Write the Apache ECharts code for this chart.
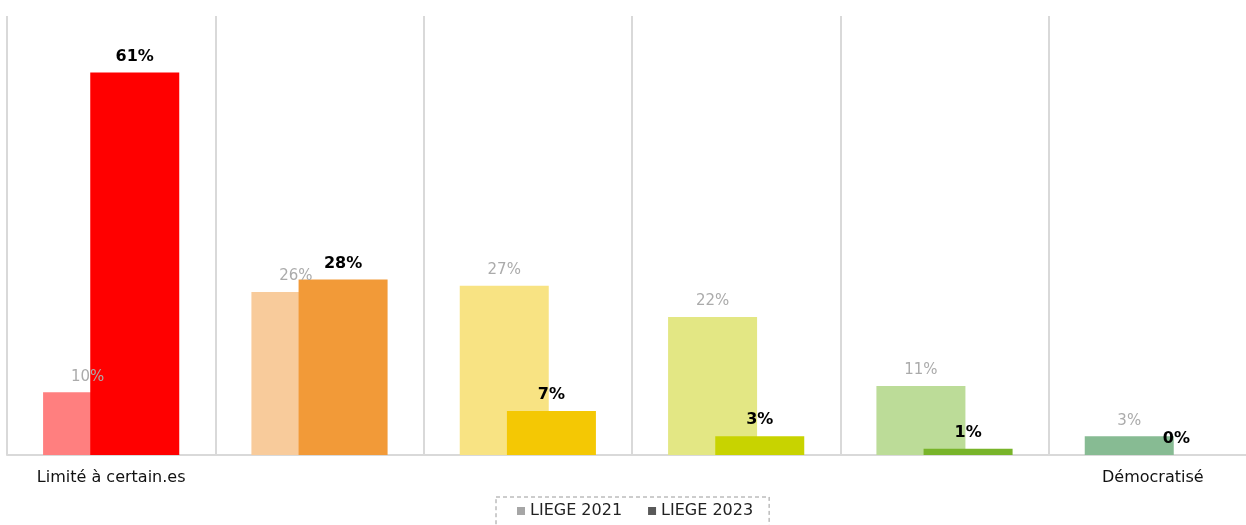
<!DOCTYPE html>
<html>
<head>
<meta charset="utf-8">
<script src="https://cdn.jsdelivr.net/npm/echarts@6/dist/echarts.min.js"></script>
<style>
  html, body { margin: 0; padding: 0; background: #ffffff; }
  #chart { width: 1246px; height: 525px; }
</style>
</head>
<body>
<div id="chart"></div>
<script>
// Categories: scale from "limited to some" to "democratised"
const categories = ['Limité à certain.es', '', '', '', '', 'Démocratisé'];
// Share of respondents (%)
const liege2021 = [10, 26, 27, 22, 11, 3];
const liege2023 = [61, 28, 7, 3, 1, 0];
const seriesNames = ['LIEGE 2021', 'LIEGE 2023'];

const lightColors = ['#FF7F7F', '#F8CB9B', '#F8E383', '#E3E784', '#BCDC98', '#87BB93'];
const darkColors = ['#FF0000', '#F29A38', '#F4C804', '#C8D300', '#78B42A', '#3F8F5A'];

const FONT = 'DejaVu Sans';

const chart = echarts.init(document.getElementById('chart'), null, { renderer: 'canvas' });

chart.setOption({
  animation: false,
  backgroundColor: '#ffffff',
  textStyle: { fontFamily: FONT },
  grid: { left: 7, top: 16, right: -11, bottom: 70, containLabel: false, outerBoundsMode: 'none' },
  legend: {
    data: [
      { name: seriesNames[0], itemStyle: { color: '#A6A6A6' } },
      { name: seriesNames[1], itemStyle: { color: '#595959' } }
    ],
    left: 496,
    top: 497,
    itemWidth: 8,
    itemHeight: 8,
    itemGap: 26,
    icon: 'rect',
    borderColor: '#9A9A9A',
    borderWidth: 1,
    borderType: [4, 3],
    padding: [6, 16, 30, 21],
    textStyle: { fontFamily: FONT, fontSize: 16, color: '#222222' }
  },
  xAxis: {
    type: 'category',
    data: categories,
    axisLine: { show: true, lineStyle: { color: '#D9D9D9', width: 2 } },
    axisTick: { show: false },
    axisLabel: { fontFamily: FONT, fontSize: 16, color: '#111111', margin: 15, interval: 0 },
    splitLine: { show: true, lineStyle: { color: '#D9D9D9', width: 2 } }
  },
  yAxis: {
    type: 'value',
    min: 0,
    max: 70,
    show: false,
    splitLine: { show: false }
  },
  series: [
    {
      name: seriesNames[0],
      type: 'bar',
      barWidth: 89,
      barGap: '-47%',
      itemStyle: { color: '#A6A6A6' },
      data: liege2021.map((v, i) => ({ value: v, itemStyle: { color: lightColors[i] } })),
      label: {
        show: true,
        position: 'top',
        distance: 8,
        formatter: '{c}%',
        fontFamily: FONT,
        fontSize: 15,
        color: '#ABABAB'
      }
    },
    {
      name: seriesNames[1],
      type: 'bar',
      barWidth: 89,
      itemStyle: { color: '#595959' },
      data: liege2023.map((v, i) => ({ value: v, itemStyle: { color: darkColors[i] } })),
      label: {
        show: true,
        position: 'top',
        distance: 8,
        formatter: '{c}%',
        fontFamily: FONT,
        fontSize: 16,
        fontWeight: 'bold',
        color: '#000000'
      }
    }
  ]
});
</script>
</body>
</html>
